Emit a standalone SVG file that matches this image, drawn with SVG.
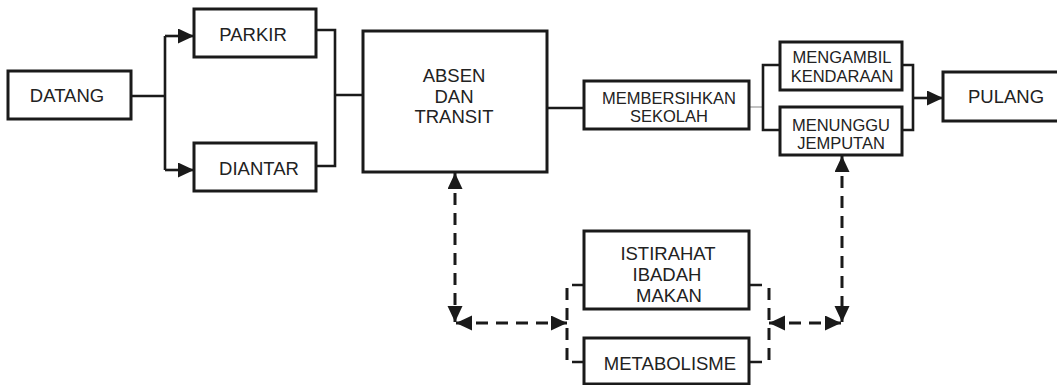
<svg xmlns="http://www.w3.org/2000/svg" width="1057" height="385" viewBox="0 0 1057 385">
<style>
.box{fill:#fff;stroke:#1a1a1a;stroke-width:3}
.t{font-family:"Liberation Sans",Arial,sans-serif;font-size:18.5px;fill:#222;text-anchor:middle}
.s{font-size:16.5px}
.c{fill:none;stroke:#1a1a1a;stroke-width:2.6}
.d{fill:none;stroke:#1a1a1a;stroke-width:3;stroke-dasharray:12 8}
.thin{fill:none;stroke:#999;stroke-width:1.2}
</style>
<defs>
<marker id="ah" markerUnits="userSpaceOnUse" markerWidth="18" markerHeight="18" refX="16" refY="7.5" orient="auto-start-reverse">
<path d="M0,0 L16,7.5 L0,15 z" fill="#1a1a1a"/>
</marker>
</defs>
<g id="connectors">
<path class="c" d="M131,96 H165 M165,36 V170"/>
<path class="c" d="M165,36 H194" marker-end="url(#ah)"/>
<path class="c" d="M165,170 H194" marker-end="url(#ah)"/>
<path class="c" d="M316,30 H335 V166 H316 M335,95 H363"/>
<path class="c" d="M547,108 H584"/>
<path class="thin" d="M749,107 H763"/>
<path class="c" d="M780,65 H763 V130 H780"/>
<path class="c" d="M902,65 H913 V130 H902"/>
<path class="c" d="M913,98 H943" marker-end="url(#ah)"/>
<path class="d" d="M455,173 V322" marker-start="url(#ah)" marker-end="url(#ah)"/>
<path class="d" d="M456,323 H567" marker-start="url(#ah)" marker-end="url(#ah)"/>
<path class="d" d="M567,288 V362"/>
<path class="c" d="M572,285 H584 M572,362 H584"/>
<path class="d" d="M769,288 V362"/>
<path class="c" d="M749,285 H762 M749,362 H762"/>
<path class="d" d="M769,323 H841" marker-start="url(#ah)" marker-end="url(#ah)"/>
<path class="d" d="M842,156 V322" marker-start="url(#ah)" marker-end="url(#ah)"/>
</g>
<g id="datang"><rect class="box" x="8" y="71" width="123" height="48"/><text class="t" x="67" y="102">DATANG</text></g>
<g id="parkir"><rect class="box" x="194" y="9" width="122" height="48"/><text class="t" x="253" y="41">PARKIR</text></g>
<g id="diantar"><rect class="box" x="194" y="143" width="122" height="48"/><text class="t" x="259" y="175">DIANTAR</text></g>
<g id="absen"><rect class="box" x="363" y="31" width="184" height="141"/><text class="t" x="454" y="82">ABSEN</text><text class="t" x="454" y="103">DAN</text><text class="t" x="454" y="123">TRANSIT</text></g>
<g id="membersihkan"><rect class="box" x="584" y="81" width="165" height="48"/><text class="t s" x="669" y="104">MEMBERSIHKAN</text><text class="t s" x="669" y="122">SEKOLAH</text></g>
<g id="mengambil"><rect class="box" x="780" y="42" width="122" height="48"/><text class="t s" x="842" y="63">MENGAMBIL</text><text class="t s" x="842" y="82">KENDARAAN</text></g>
<g id="menunggu"><rect class="box" x="780" y="107" width="122" height="48"/><text class="t s" x="841" y="131">MENUNGGU</text><text class="t s" x="841" y="149">JEMPUTAN</text></g>
<g id="pulang"><rect class="box" x="943" y="72" width="120" height="49"/><text class="t" x="1006" y="103">PULANG</text></g>
<g id="istirahat"><rect class="box" x="584" y="231" width="165" height="78"/><text class="t" x="668" y="260">ISTIRAHAT</text><text class="t" x="667" y="281">IBADAH</text><text class="t" x="669" y="302">MAKAN</text></g>
<g id="metabolisme"><rect class="box" x="584" y="338" width="165" height="46"/><text class="t" x="670" y="370">METABOLISME</text></g>
</svg>
